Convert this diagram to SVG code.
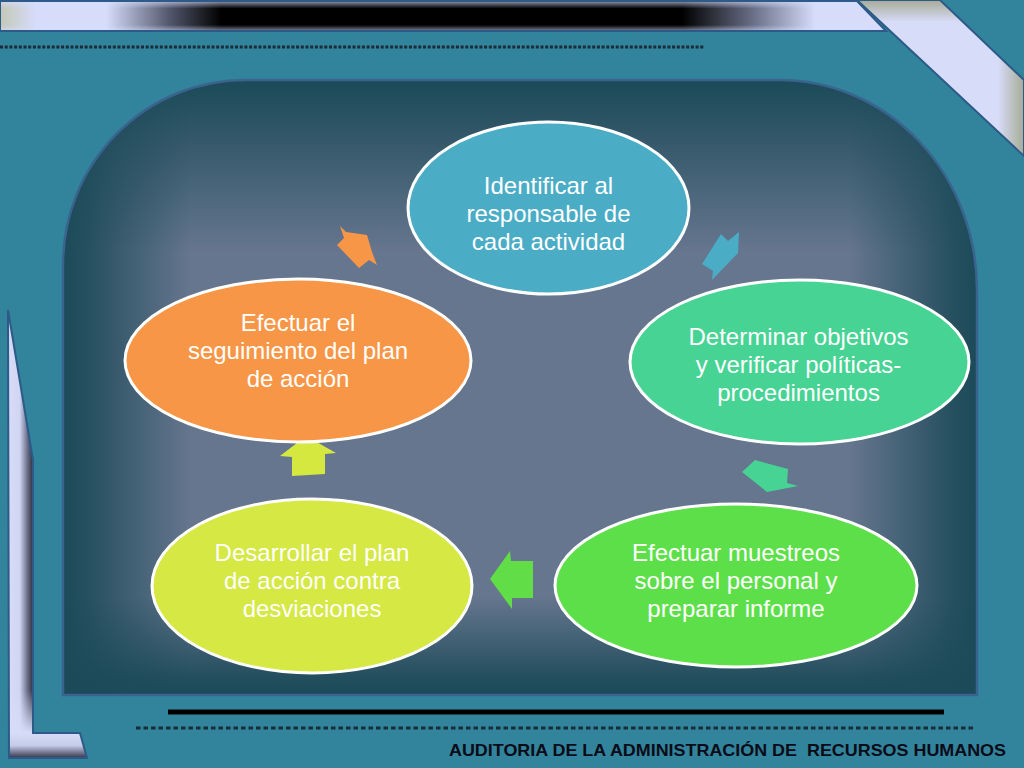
<svg xmlns="http://www.w3.org/2000/svg" width="1024" height="768" viewBox="0 0 1024 768">
<defs>
<linearGradient id="barG" gradientUnits="userSpaceOnUse" x1="0" y1="0" x2="886" y2="0">
<stop offset="0" stop-color="#c3c8b6"/>
<stop offset="0.04" stop-color="#d6dcfa"/>
<stop offset="0.12" stop-color="#d6dcfa"/>
<stop offset="0.19" stop-color="#55596f"/>
<stop offset="0.25" stop-color="#000"/>
<stop offset="0.77" stop-color="#000"/>
<stop offset="0.85" stop-color="#6a6f88"/>
<stop offset="0.92" stop-color="#d6dcfa"/>
<stop offset="1" stop-color="#d6dcfa"/>
</linearGradient>
<linearGradient id="barV" x1="0" y1="0" x2="0" y2="1">
<stop offset="0" stop-color="#d6dcfa" stop-opacity="0.7"/>
<stop offset="0.25" stop-color="#d6dcfa" stop-opacity="0"/>
<stop offset="0.8" stop-color="#d6dcfa" stop-opacity="0"/>
<stop offset="1" stop-color="#d6dcfa" stop-opacity="0.6"/>
</linearGradient>
<linearGradient id="bandG" gradientUnits="userSpaceOnUse" x1="950" y1="0" x2="1024" y2="0">
<stop offset="0" stop-color="#d7dcf8"/>
<stop offset="0.65" stop-color="#d7dcf8"/>
<stop offset="1" stop-color="#a6ab96"/>
</linearGradient>
<linearGradient id="bandTop" gradientUnits="userSpaceOnUse" x1="0" y1="0" x2="0" y2="22">
<stop offset="0" stop-color="#a6ab96"/>
<stop offset="1" stop-color="#a6ab96" stop-opacity="0"/>
</linearGradient>
<linearGradient id="lG" gradientUnits="userSpaceOnUse" x1="8" y1="0" x2="34" y2="0">
<stop offset="0" stop-color="#d7dcf8"/>
<stop offset="0.45" stop-color="#d0d5f2"/>
<stop offset="0.75" stop-color="#6a6e88"/>
<stop offset="1" stop-color="#22222f"/>
</linearGradient>
<linearGradient id="lBot" gradientUnits="userSpaceOnUse" x1="0" y1="690" x2="0" y2="733">
<stop offset="0" stop-color="#d7dcf8" stop-opacity="0"/>
<stop offset="1" stop-color="#d7dcf8"/>
</linearGradient>
<linearGradient id="footG" gradientUnits="userSpaceOnUse" x1="0" y1="733" x2="0" y2="758">
<stop offset="0" stop-color="#d7dcf8"/>
<stop offset="0.5" stop-color="#c6cbe8"/>
<stop offset="1" stop-color="#34344a"/>
</linearGradient>
<linearGradient id="pTop" x1="0" y1="0" x2="0" y2="1">
<stop offset="0" stop-color="#1c4a58"/>
<stop offset="0.05" stop-color="#1c4a58" stop-opacity="0.85"/>
<stop offset="0.28" stop-color="#1c4a58" stop-opacity="0"/>
</linearGradient>
<linearGradient id="pBot" x1="0" y1="0" x2="0" y2="1">
<stop offset="0.84" stop-color="#1c4a58" stop-opacity="0"/>
<stop offset="0.97" stop-color="#1c4a58" stop-opacity="0.9"/>
<stop offset="1" stop-color="#1c4a58"/>
</linearGradient>
<linearGradient id="pLeft" x1="0" y1="0" x2="1" y2="0">
<stop offset="0" stop-color="#1c4a58"/>
<stop offset="0.03" stop-color="#1c4a58" stop-opacity="0.85"/>
<stop offset="0.14" stop-color="#1c4a58" stop-opacity="0"/>
</linearGradient>
<linearGradient id="pRight" x1="0" y1="0" x2="1" y2="0">
<stop offset="0.86" stop-color="#1c4a58" stop-opacity="0"/>
<stop offset="0.97" stop-color="#1c4a58" stop-opacity="0.85"/>
<stop offset="1" stop-color="#1c4a58"/>
</linearGradient>
<path id="panel" d="M63,695 L63,265 A182,185 0 0 1 245,80 L780,80 A197,210 0 0 1 977,290 L977,695 Z"/>
</defs>
<style>
.node ellipse{stroke:#ffffff;stroke-width:3}
.node text{font-family:"Liberation Sans",Arial,sans-serif;font-size:24px;fill:#ffffff;text-anchor:middle}
.dots{fill:none;stroke:#1b2b38;stroke-width:3}
.edge{stroke:#2d5a88;stroke-width:2}
</style>

<!-- background -->
<rect x="0" y="0" width="1024" height="768" fill="#31849b"/>

<!-- top bar -->
<polygon points="0,1 857,1 886,31 0,31" fill="url(#barG)"/>
<polygon points="0,1 857,1 886,31 0,31" fill="url(#barV)" class="edge"/>
<!-- top right band -->
<polygon points="857,0 940,0 1024,80 1024,156" fill="url(#bandG)"/>
<polygon points="857,0 940,0 1024,80 1024,156" fill="url(#bandTop)" class="edge"/>
<line x1="0" y1="47" x2="705" y2="47" class="dots" stroke-dasharray="3 1.7"/>

<!-- left L shape -->
<polygon points="8,310 33,460 33,733 80,733 87,758 9,758" fill="url(#lG)"/>
<rect x="9" y="690" width="25" height="44" fill="url(#lBot)"/>
<polygon points="9,733 80,733 87,758 9,758" fill="url(#footG)"/>
<polygon points="8,310 33,460 33,733 80,733 87,758 9,758" fill="none" class="edge"/>

<!-- panel -->
<use href="#panel" fill="#66768e"/>
<use href="#panel" fill="url(#pTop)"/>
<use href="#panel" fill="url(#pBot)"/>
<use href="#panel" fill="url(#pLeft)"/>
<use href="#panel" fill="url(#pRight)"/>
<use href="#panel" fill="none" stroke="#3a6490" stroke-width="2.5"/>

<!-- bottom lines -->
<line x1="168" y1="712" x2="944" y2="712" stroke="#000" stroke-width="5"/>
<line x1="136" y1="728" x2="973" y2="728" class="dots" stroke-dasharray="4.5 3"/>
<text x="449" y="756" font-family="'Liberation Sans',Arial,sans-serif" font-weight="bold" font-size="16.5" fill="#0b0b18" textLength="557" lengthAdjust="spacingAndGlyphs" style="white-space:pre">AUDITORIA DE LA ADMINISTRACIÓN DE  RECURSOS HUMANOS</text>

<!-- connectors -->
<g id="connectors">
<polygon points="721,234 728,241 739,232 738,253 712,280 713,271 702,264" fill="#4bacc6"/>
<polygon points="742,472 755,460 788,469 787,483 798,486 767,492" fill="#47d394"/>
<polygon points="490,579 510,551 511,561 533,561 533,598 512,598 512,609" fill="#61dd47"/>
<polygon points="280,456 306,436 336,453 325,454 325,474 292,476 292,457" fill="#d5e83f"/>
<polygon points="340,226 346,232 367,235 372,252 377,265 369,260 359,268 337,245 344,238" fill="#f79646"/>
</g>

<!-- nodes -->
<g id="node-identificar" class="node">
<ellipse cx="548.5" cy="208" rx="140.5" ry="86" fill="#4bacc6"/>
<text x="548.5" y="194">Identificar al</text>
<text x="548.5" y="222">responsable de</text>
<text x="548.5" y="250">cada actividad</text>
</g>
<g id="node-determinar" class="node">
<ellipse cx="799.5" cy="362" rx="169.5" ry="82" fill="#46d393"/>
<text x="798.5" y="345">Determinar objetivos</text>
<text x="798.5" y="373">y verificar políticas-</text>
<text x="798.5" y="401">procedimientos</text>
</g>
<g id="node-muestreos" class="node">
<ellipse cx="736" cy="585.5" rx="181" ry="81.5" fill="#5ddf4a"/>
<text x="736" y="561">Efectuar muestreos</text>
<text x="736" y="589">sobre el personal y</text>
<text x="736" y="617">preparar informe</text>
</g>
<g id="node-desarrollar" class="node">
<ellipse cx="312" cy="586" rx="160" ry="87" fill="#d5e843"/>
<text x="312" y="561">Desarrollar el plan</text>
<text x="312" y="589">de acción contra</text>
<text x="312" y="617">desviaciones</text>
</g>
<g id="node-seguimiento" class="node">
<ellipse cx="298" cy="360.5" rx="173" ry="81.5" fill="#f79646"/>
<text x="298" y="331">Efectuar el</text>
<text x="298" y="359">seguimiento del plan</text>
<text x="298" y="387">de acción</text>
</g>
</svg>
